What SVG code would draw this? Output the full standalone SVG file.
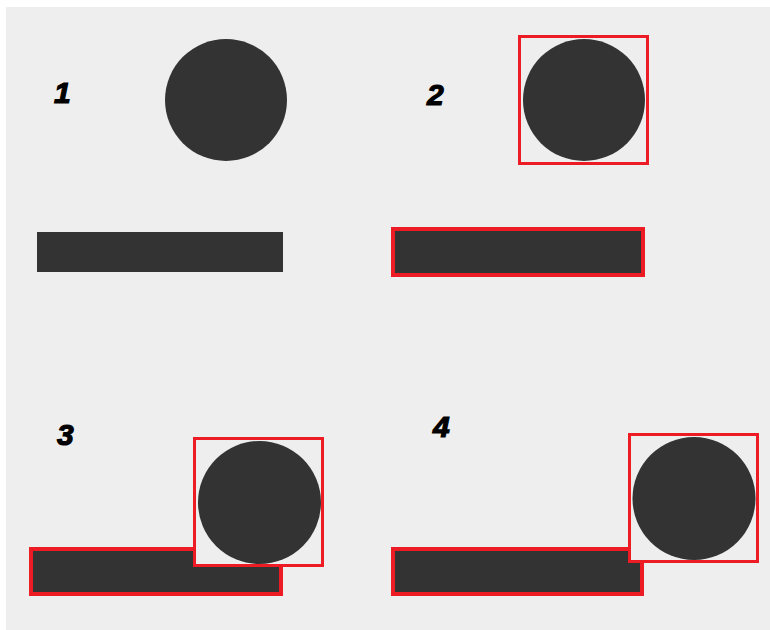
<svg xmlns="http://www.w3.org/2000/svg" width="770" height="630" viewBox="0 0 770 630">
<style>
.lbl{font-family:"Liberation Sans",Arial,sans-serif;font-weight:bold;font-style:italic;font-size:30px;fill:#000;stroke:#000;stroke-width:1.2}
.shape{fill:#333333}
.box{fill:#eeeeee;stroke:#ed1c24;stroke-width:3}
.bar{fill:#333333;stroke:#ed1c24;stroke-width:4}
</style>
<rect x="0" y="0" width="770" height="630" fill="#ffffff"/>
<rect x="6" y="7" width="764" height="623" fill="#eeeeee"/>
<g id="panel1">
<text class="lbl" x="54" y="103">1</text>
<circle class="shape" cx="226" cy="100" r="61"/>
<rect class="shape" x="37" y="232" width="246" height="40"/>
</g>
<g id="panel2">
<text class="lbl" x="427" y="105">2</text>
<rect class="box" x="519.5" y="36.5" width="128" height="127"/>
<circle class="shape" cx="584" cy="100" r="61"/>
<rect class="bar" x="393" y="229" width="250" height="46"/>
</g>
<g id="panel3">
<text class="lbl" x="57" y="445">3</text>
<rect class="bar" x="31" y="549" width="250" height="45"/>
<rect class="box" x="194.5" y="438.5" width="128" height="127"/>
<circle class="shape" cx="259.5" cy="502.5" r="61.5"/>
</g>
<g id="panel4">
<text class="lbl" x="433" y="437">4</text>
<rect class="bar" x="393" y="549" width="249" height="45"/>
<rect class="box" x="629.5" y="434.5" width="128" height="127"/>
<circle class="shape" cx="694" cy="498.5" r="61.5"/>
</g>
<g id="connectors"></g>
</svg>
